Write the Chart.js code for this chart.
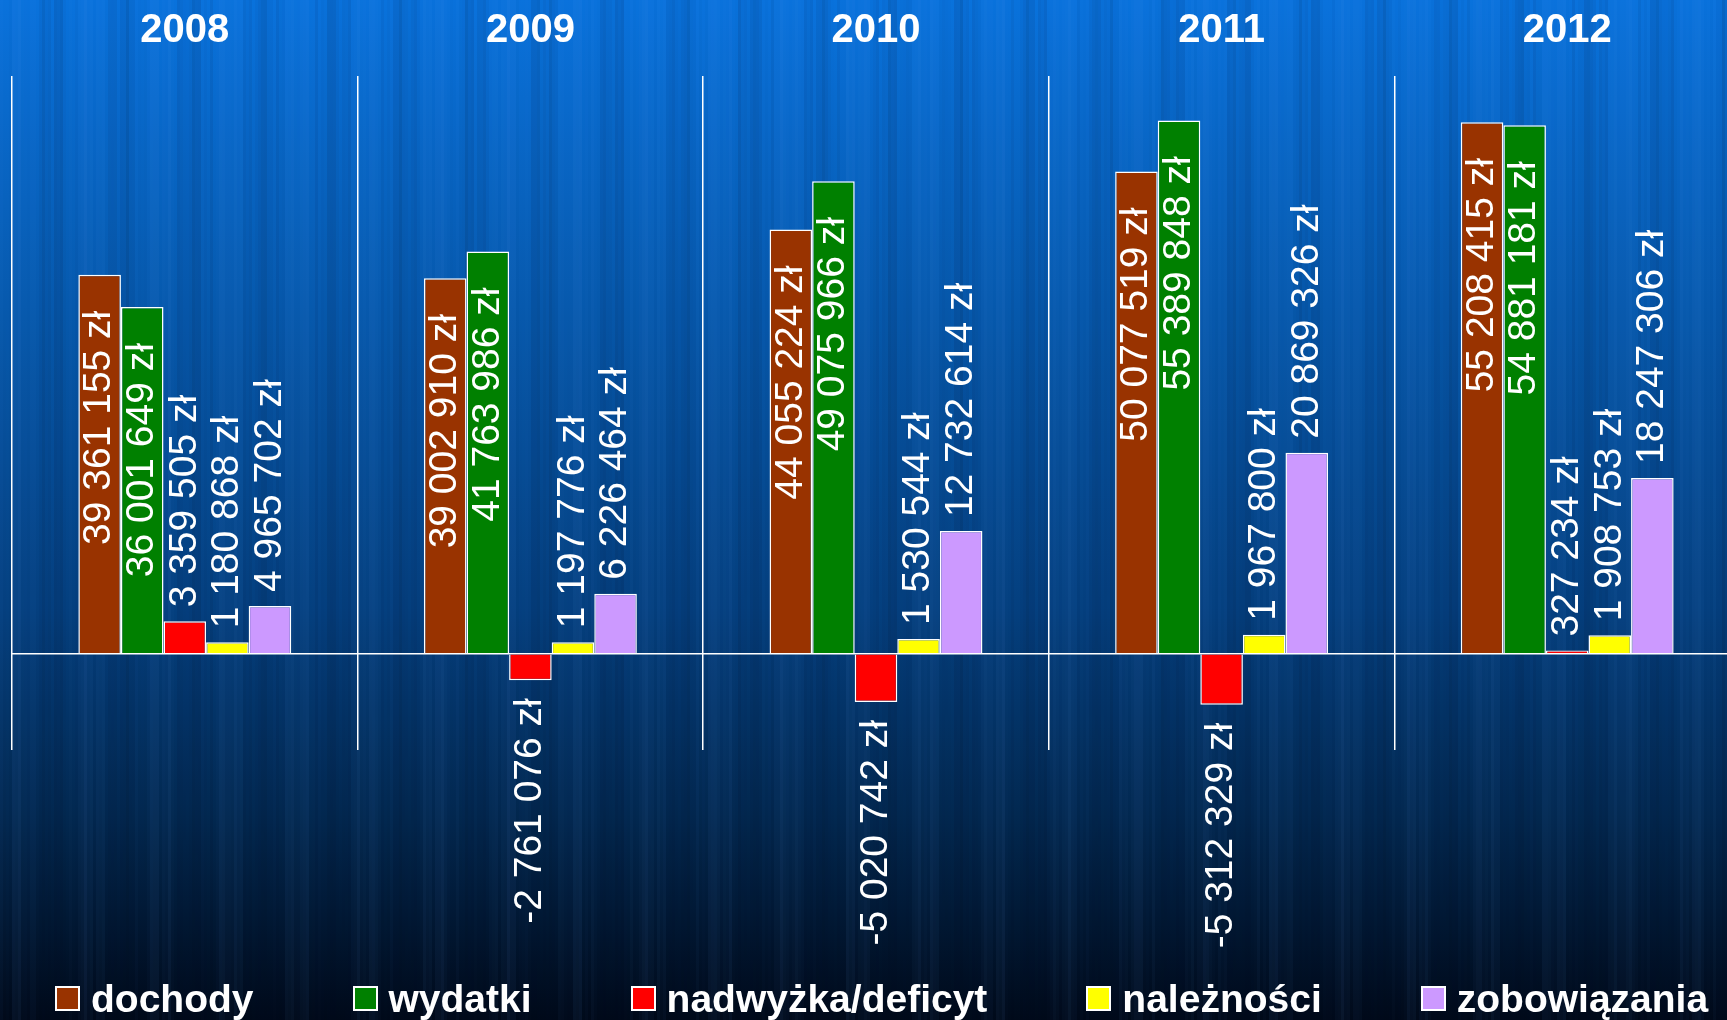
<!DOCTYPE html>
<html>
<head>
<meta charset="utf-8">
<script src="https://cdn.jsdelivr.net/npm/chart.js@4.4.1/dist/chart.umd.min.js"></script>
<style>
  html, body { margin: 0; padding: 0; overflow: hidden; background: #021a38; }
  #wrap { position: relative; width: 1727px; height: 1020px; overflow: hidden; }
  #c { position: absolute; left: 0; top: -20px; }
  #legend { position: absolute; left: 55px; top: 979px; display: flex; align-items: center; gap: 99px; }
  #legend .item { display: flex; align-items: center; height: 39px; }
  #legend .box { width: 21px; height: 21px; border: 2px solid #fff; margin-right: 11px; }
  #legend .txt { font: bold 39px "Liberation Sans", Arial, sans-serif; color: #fff; line-height: 39px; white-space: nowrap; }
</style>
</head>
<body>
<div id="wrap">
  <canvas id="c" width="1742" height="1040"></canvas>
  <div id="legend"></div>
</div>
<script>
const years = ['2008', '2009', '2010', '2011', '2012'];
const dochody = [39361155, 39002910, 44055224, 50077519, 55208415];
const wydatki = [36001649, 41763986, 49075966, 55389848, 54881181];
const nadwyzka = [3359505, -2761076, -5020742, -5312329, 327234];
const naleznosci = [1180868, 1197776, 1530544, 1967800, 1908753];
const zobowiazania = [4965702, 6226464, 12732614, 20869326, 18247306];

Chart.defaults.font.family = '"Liberation Sans", Arial, sans-serif';

function fmt(v) {
  const s = String(Math.abs(v)).replace(/\B(?=(\d{3})+(?!\d))/g, ' ');
  return (v < 0 ? '-' : '') + s + ' zł';
}

// tło: gradient + pionowe smugi
const background = {
  id: 'background',
  beforeDraw(chart) {
    const { ctx, width, height } = chart;
    ctx.save();
    const g = ctx.createLinearGradient(0, 20, 0, height);
    g.addColorStop(0, '#0a72dc');
    g.addColorStop(0.3, '#0759ad');
    g.addColorStop(0.6, '#053f7e');
    g.addColorStop(0.8, '#032850');
    g.addColorStop(1, '#010a1a');
    ctx.fillStyle = g;
    ctx.fillRect(0, 0, width, height);
    for (let x = 0; x < width; x += 3) {
      const n = Math.sin(x * 0.09) * 0.5 + Math.sin(x * 0.37 + 2) * 0.3 + Math.sin(x * 1.13 + 0.5) * 0.2;
      ctx.fillStyle = n > 0 ? 'rgba(110,170,255,' + (n * 0.08) + ')' : 'rgba(0,5,25,' + (-n * 0.14) + ')';
      ctx.fillRect(x, 0, 3, height);
    }
    ctx.restore();
  }
};

// etykiety wartości, obrócone pionowo
const barLabels = {
  id: 'barLabels',
  afterDatasetsDraw(chart) {
    const ctx = chart.ctx;
    ctx.save();
    ctx.font = '39px "Liberation Sans", Arial, sans-serif';
    ctx.fillStyle = '#fff';
    ctx.textBaseline = 'middle';
    chart.data.datasets.forEach((ds, i) => {
      chart.getDatasetMeta(i).data.forEach((bar, j) => {
        const v = ds.data[j];
        const text = fmt(v);
        const w = ctx.measureText(text).width;
        const h = Math.abs(bar.base - bar.y);
        let y, align;
        if (v < 0) { y = bar.y + 18; align = 'right'; }
        else if (h > w + 60) { y = bar.y + 36; align = 'right'; }
        else { y = bar.y - 14; align = 'left'; }
        ctx.save();
        ctx.translate(bar.x, y);
        ctx.rotate(-Math.PI / 2);
        ctx.textAlign = align;
        ctx.fillText(text, 0, 0);
        ctx.restore();
      });
    });
    ctx.restore();
  }
};

const htmlLegend = {
  id: 'htmlLegend',
  afterUpdate(chart) {
    const box = document.getElementById('legend');
    box.innerHTML = '';
    chart.data.datasets.forEach(ds => {
      const item = document.createElement('div');
      item.className = 'item';
      const sw = document.createElement('span');
      sw.className = 'box';
      sw.style.background = ds.backgroundColor;
      const t = document.createElement('span');
      t.className = 'txt';
      t.textContent = ds.label;
      item.appendChild(sw);
      item.appendChild(t);
      box.appendChild(item);
    });
  }
};

new Chart(document.getElementById('c'), {
  type: 'bar',
  data: {
    labels: years,
    datasets: [
      { label: 'dochody', data: dochody, backgroundColor: '#993300' },
      { label: 'wydatki', data: wydatki, backgroundColor: '#008000' },
      { label: 'nadwyżka/deficyt', data: nadwyzka, backgroundColor: '#ff0000' },
      { label: 'należności', data: naleznosci, backgroundColor: '#ffff00' },
      { label: 'zobowiązania', data: zobowiazania, backgroundColor: '#cc99ff' }
    ].map(d => Object.assign(d, { borderColor: '#ffffff', borderWidth: 1.5, barPercentage: 1, categoryPercentage: 0.616 }))
  },
  options: {
    responsive: false,
    animation: false,
    devicePixelRatio: 1,
    layout: { padding: { left: 12, right: 2, top: 6, bottom: 270 } },
    plugins: {
      legend: { display: false },
      tooltip: { enabled: false }
    },
    scales: {
      x: {
        position: 'top',
        grid: { color: '#ffffff', lineWidth: 1.5, drawTicks: false, offset: true },
        border: { display: false },
        ticks: { color: '#ffffff', padding: 21, font: { size: 40, weight: 'bold' } }
      },
      y: {
        min: -10000000,
        max: 60000000,
        ticks: { display: false, stepSize: 10000000 },
        grid: {
          drawTicks: false,
          lineWidth: 1.5,
          color: c => c.tick && c.tick.value === 0 ? '#ffffff' : 'rgba(0,0,0,0)'
        },
        border: { display: false }
      }
    }
  },
  plugins: [background, barLabels, htmlLegend]
});
</script>
</body>
</html>
